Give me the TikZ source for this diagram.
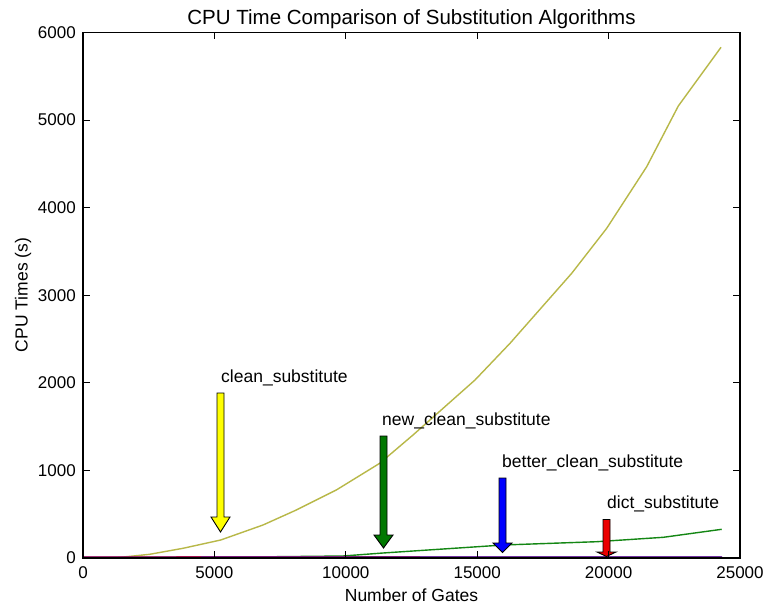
\documentclass[tikz,border=0pt]{standalone}
\usepackage{fontspec}
\setmainfont{Liberation Sans}
\definecolor{olivec}{RGB}{184,184,72}
\definecolor{greenc}{RGB}{20,135,20}
\definecolor{purplec}{RGB}{105,30,145}
\definecolor{arrowyellow}{RGB}{255,255,0}
\definecolor{arrowgreen}{RGB}{0,120,0}
\definecolor{arrowblue}{RGB}{0,0,255}
\definecolor{arrowred}{RGB}{235,0,0}
\newcommand{\annarrow}[5]{%
  \draw[fill=#5, line width=0.9pt, line join=miter]
    (#1-3.5,#2) -- (#1+3.5,#2) -- (#1+3.5,#3-#4) -- (#1+9.5,#3-#4) -- (#1,#3)
    -- (#1-9.5,#3-#4) -- (#1-3.5,#3-#4) -- cycle;}
\begin{document}
\begin{tikzpicture}[x=1pt,y=-1pt,
  tickline/.style={line width=0.8pt},
  ticklab/.style={font=\fontsize{17}{17}\selectfont, inner sep=0pt},
  annlab/.style={font=\fontsize{17.5}{18}\selectfont, inner sep=0pt, anchor=base west},
  curve/.style={line width=1.4pt, line join=round}]
\useasboundingbox (0,0) rectangle (767,609);
\fill[white] (0,0) rectangle (767,609);

% data curves
\draw[curve, olivec] (83,558) -- (105,557.8) -- (119.7,557.4) -- (149.7,554.3) -- (183,548.3) -- (220.7,540) -- (263,525) -- (296.3,510) -- (336.3,490) -- (379.7,463.3) -- (413,435) -- (475,380) -- (510,343.3) -- (571.7,273.3) -- (606.7,228.3) -- (646.7,166.7) -- (678.3,106) -- (721,47.3);
\draw[curve, greenc] (83,558) -- (200,557.5) -- (343,556) -- (383,553) -- (503.3,545) -- (596.7,541.7) -- (663.3,537.3) -- (721.7,529.3);
\draw[curve, arrowblue] (83,557.5) -- (721,557.2);
\draw[curve, arrowred] (83,557) -- (420,556.8);
\draw[curve, purplec, opacity=0.85] (83,557) -- (722,556.7);

% annotation arrows
\annarrow{220.5}{393}{532}{15}{arrowyellow}
\annarrow{383.5}{436}{548}{13}{arrowgreen}
\annarrow{502.5}{478}{552.5}{9.5}{arrowblue}
\annarrow{606.5}{519.5}{556.5}{4.5}{arrowred}

% annotation labels
\node[annlab] (lclean) at (221,382) {clean\_substitute};
\node[annlab] (lnew) at (382,425) {new\_clean\_substitute};
\node[annlab] (lbetter) at (502,467) {better\_clean\_substitute};
\node[annlab] (ldict) at (607,508) {dict\_substitute};

% frame
\draw[line width=1.2pt] (83,32.5) rectangle (740,558);

% ticks
\foreach \i in {1,2,3,4} {
  \draw[tickline] (83+131.4*\i,558) -- ++(0,-7);
  \draw[tickline] (83+131.4*\i,32.5) -- ++(0,7);
}
\foreach \j in {1,2,3,4,5} {
  \draw[tickline] (83,558-87.583*\j) -- ++(7,0);
  \draw[tickline] (740,558-87.583*\j) -- ++(-7,0);
}

% tick labels
\foreach \v [count=\i from 0] in {0,5000,10000,15000,20000,25000}
  \node[ticklab, anchor=north] (xt\i) at (83+131.4*\i,566) {\v};
\foreach \v [count=\j from 0] in {0,1000,2000,3000,4000,5000,6000}
  \node[ticklab, anchor=east] (yt\j) at (76,558-87.583*\j) {\v};

% titles
\node[font=\fontsize{20.5}{21}\selectfont, inner sep=0pt, anchor=base] (title) at (411.5,24.5) {CPU Time Comparison of Substitution Algorithms};
\node[font=\fontsize{17.5}{18}\selectfont, inner sep=0pt, anchor=base] (xlabel) at (411.5,601) {Number of Gates};
\node[font=\fontsize{17.5}{18}\selectfont, inner sep=0pt, anchor=base, rotate=90] (ylabel) at (27.5,295) {CPU Times (s)};
\end{tikzpicture}
\end{document}
